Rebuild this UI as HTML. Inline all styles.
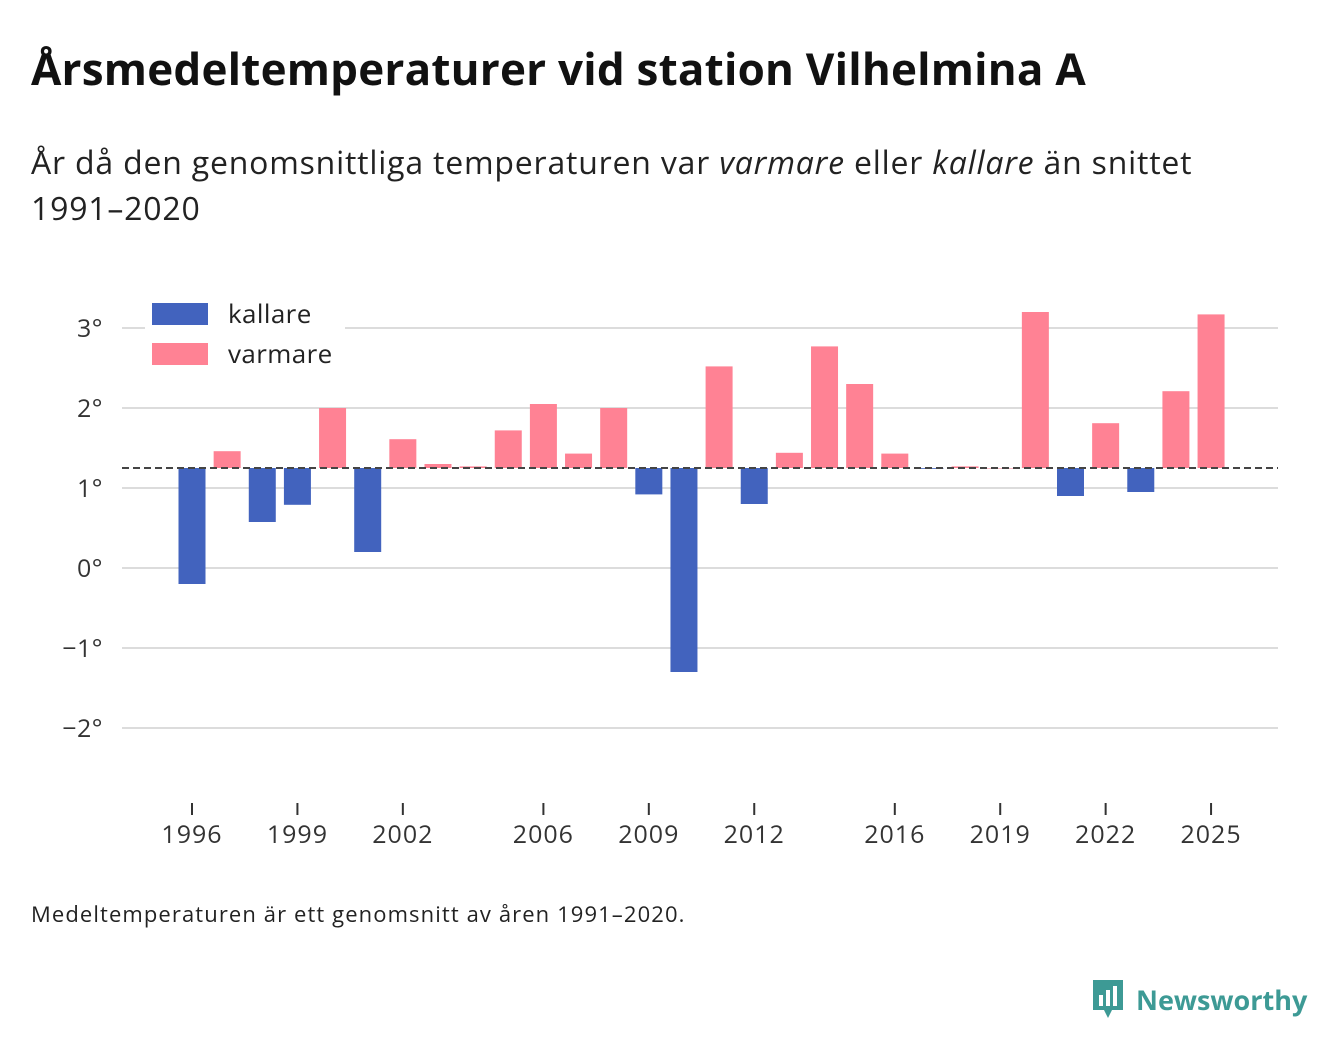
<!DOCTYPE html>
<html><head><meta charset="utf-8">
<style>
body{margin:0;background:#fff;width:1340px;height:1056px;overflow:hidden;font-family:"Open Sans","Liberation Sans","DejaVu Sans",sans-serif;color:#111;position:relative}
.t{position:absolute;left:31px;top:38px;font-size:44px;font-weight:bold;margin:0;letter-spacing:0.2px}
.s{position:absolute;left:31px;top:140px;font-size:32px;line-height:46px;color:#222;width:1200px;letter-spacing:0.8px}
.f{position:absolute;left:31px;top:899px;font-size:22px;color:#222;letter-spacing:1.1px}
.logo{position:absolute;left:1090px;top:977px;font-size:27px;font-weight:bold;color:#3d9a95;display:flex;align-items:center;gap:10px}
</style></head><body>
<h1 class="t">Årsmedeltemperaturer vid station Vilhelmina A</h1>
<div class="s">År då den genomsnittliga temperaturen var <i>varmare</i> eller <i>kallare</i> än snittet 1991–2020</div>
<svg id="c" width="1340" height="1056" style="position:absolute;left:0;top:0"></svg>
<div class="f">Medeltemperaturen är ett genomsnitt av åren 1991–2020.</div>
<div class="logo">
<svg width="36" height="44" viewBox="0 0 36 44"><path d="M3 3h30v30H22l-4 8-4-8H3z" fill="#3d9a95"/><rect x="9" y="18" width="4" height="11" fill="#fff"/><rect x="16" y="13" width="4" height="16" fill="#fff"/><rect x="23" y="9" width="4" height="20" fill="#fff"/></svg>
<span>Newsworthy</span></div>
<script>
const years=[1996,1997,1998,1999,2000,2001,2002,2003,2004,2005,2006,2007,2008,2009,2010,2011,2012,2013,2014,2015,2016,2017,2018,2019,2020,2021,2022,2023,2024,2025];
const temps=[-0.2,1.46,0.575,0.79,2.0,0.2,1.61,1.3,1.27,1.72,2.05,1.43,2.0,0.92,-1.3,2.52,0.8,1.44,2.77,2.3,1.43,1.24,1.27,1.25,3.2,0.9,1.81,0.95,2.21,3.17];
const baseline=1.25;
const yTicks=[-2,-1,0,1,2,3];
const xTicks=[1996,1999,2002,2006,2009,2012,2016,2019,2022,2025];
const NS='http://www.w3.org/2000/svg',svg=document.getElementById('c');
const y=v=>568-v*80, x=yr=>192+(yr-1996)*35.14;
function mk(t,a,txt){const e=document.createElementNS(NS,t);for(const k in a)e.setAttribute(k,a[k]);if(txt!=null)e.textContent=txt;svg.appendChild(e);return e;}
yTicks.forEach(v=>{
 const g=mk('line',{x1:122,x2:1278,y1:y(v),y2:y(v),stroke:'#dcdcdc','stroke-width':2});
 
 
 const l=mk('text',{x:103,y:y(v)+9,'text-anchor':'end','font-size':25,fill:'#333','letter-spacing':0.5},(v<0?'−'+(-v):v)+'°');
 
 
});
years.forEach((yr,i)=>{
 const v=temps[i],top=y(Math.max(v,baseline)),bot=y(Math.min(v,baseline));
 const r=mk('rect',{x:x(yr)-13.5,y:top,width:27,height:Math.max(bot-top,0.5),fill:v>=baseline?'#ff8294':'#4263be'});
 
 
});
const b=mk('line',{x1:122,x2:1278,y1:y(baseline),y2:y(baseline),stroke:'#444','stroke-width':2,'stroke-dasharray':'7,4'});


xTicks.forEach(yr=>{
 const t=mk('line',{x1:x(yr),x2:x(yr),y1:803,y2:815,stroke:'#333','stroke-width':2});
 
 
 const l=mk('text',{x:x(yr),y:843,'text-anchor':'middle','font-size':25,fill:'#333','letter-spacing':1},yr);
 
 
});
const lb=mk('rect',{x:145,y:295,width:200,height:75,fill:'#fff'});


[['kallare','#4263be',303],['varmare','#ff8294',343]].forEach(([n,c,yy])=>{
 const s=mk('rect',{x:152,y:yy,width:56,height:22,fill:c});
 
 
 const t=mk('text',{x:228,y:yy+20,'font-size':26,fill:'#222','letter-spacing':0.4},n);
 
 
});
</script>
</body></html>
